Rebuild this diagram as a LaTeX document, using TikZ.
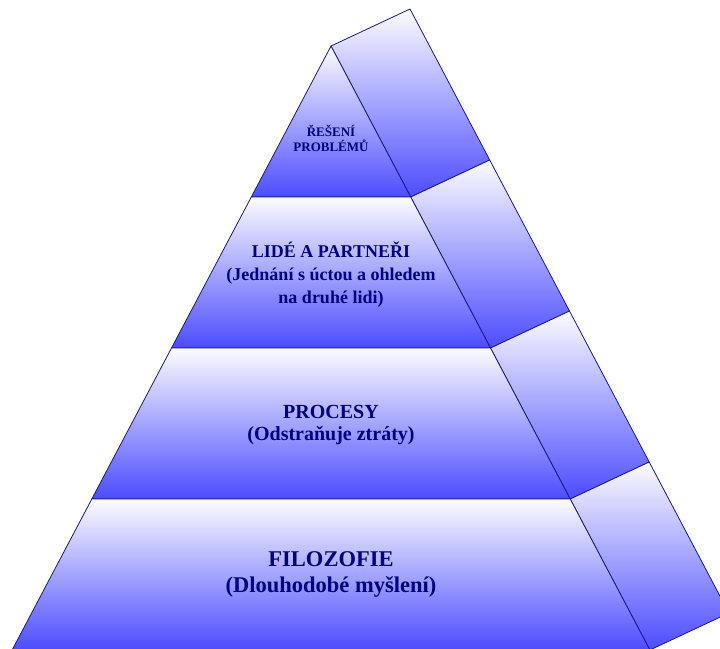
\documentclass[tikz,border=0pt]{standalone}
\usepackage{fontspec}
\setmainfont{Liberation Serif}
\newfontfamily\tierserif{Liberation Serif}
\definecolor{edgeblue}{RGB}{24,24,140}
\definecolor{textnavy}{RGB}{0,0,128}
\definecolor{facetop}{RGB}{252,252,255}
\definecolor{facemid}{RGB}{190,190,255}
\definecolor{facebottom}{RGB}{76,76,255}
\begin{document}
\begin{tikzpicture}[x=1pt,y=-1pt,
  face/.style={draw=edgeblue, line width=0.8pt, line join=round,
    top color=facetop, middle color=facemid, bottom color=facebottom},
  tiertext/.style={anchor=base, inner sep=0pt, text=textnavy}]
\useasboundingbox (0,0) rectangle (720,648);
\clip (0,0) rectangle (720,648);

% front corners of the pyramid, tier by tier
\coordinate (A)  at (331,46);
\coordinate (L1) at (251.3,197);  \coordinate (R1) at (410.7,197);
\coordinate (L2) at (171.5,348);  \coordinate (R2) at (490.5,348);
\coordinate (L3) at (91.8,499);   \coordinate (R3) at (570.2,499);
\coordinate (L4) at (12.1,650);   \coordinate (R4) at (649.9,650);
% back edge of the right side face
\coordinate (Ab) at (410,9);
\coordinate (R1b) at (489.7,160);
\coordinate (R2b) at (569.5,311);
\coordinate (R3b) at (649.2,462);
\coordinate (R4b) at (728.9,613);

% side faces
\path[face] (A) -- (Ab) -- (R1b) -- (R1) -- cycle;
\path[face] (R1) -- (R1b) -- (R2b) -- (R2) -- cycle;
\path[face] (R2) -- (R2b) -- (R3b) -- (R3) -- cycle;
\path[face] (R3) -- (R3b) -- (R4b) -- (R4) -- cycle;

% front faces
\path[face] (A) -- (R1) -- (L1) -- cycle;
\path[face] (L1) -- (R1) -- (R2) -- (L2) -- cycle;
\path[face] (L2) -- (R2) -- (R3) -- (L3) -- cycle;
\path[face] (L3) -- (R3) -- (R4) -- (L4) -- cycle;

% tier labels
\begin{scope}[every node/.style={tiertext}]
\node[font=\tierserif\bfseries\fontsize{13}{15}\selectfont] (t1a) at (331,136.7) {ŘEŠENÍ};
\node[font=\tierserif\bfseries\fontsize{13}{15}\selectfont] (t1b) at (331,151.7) {PROBLÉMŮ};

\node[font=\tierserif\bfseries\fontsize{18}{23}\selectfont] (t2a) at (331,257) {LIDÉ A PARTNEŘI};
\node[font=\tierserif\bfseries\fontsize{18}{23}\selectfont] (t2b) at (331,280) {(Jednání s úctou a ohledem};
\node[font=\tierserif\bfseries\fontsize{18}{23}\selectfont] (t2c) at (331,303) {na druhé lidi)};

\node[font=\tierserif\bfseries\fontsize{20}{22}\selectfont] (t3a) at (331,418) {PROCESY};
\node[font=\tierserif\bfseries\fontsize{20}{22}\selectfont] (t3b) at (331,440) {(Odstraňuje ztráty)};

\node[font=\tierserif\bfseries\fontsize{22.5}{26}\selectfont] (t4a) at (331,566.5) {FILOZOFIE};
\node[font=\tierserif\bfseries\fontsize{22.5}{26}\selectfont] (t4b) at (331,592) {(Dlouhodobé myšlení)};
\end{scope}
\end{tikzpicture}
\end{document}
